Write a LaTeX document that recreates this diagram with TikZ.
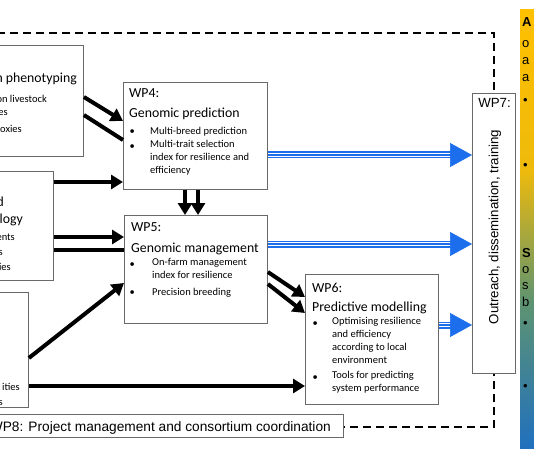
\documentclass[tikz,border=0pt]{standalone}
\usepackage{fontspec}
\setmainfont{Carlito}
\newfontfamily\arialfont{Liberation Sans}
\usetikzlibrary{arrows.meta}

\definecolor{wpblue}{RGB}{28,110,236}
\definecolor{wpgray}{RGB}{105,105,105}
\definecolor{barorange}{RGB}{255,192,0}
\definecolor{baryellow}{RGB}{238,186,12}
\definecolor{barteal}{RGB}{95,148,112}
\definecolor{barblue}{RGB}{32,112,190}

\tikzset{
  wpbox/.style={draw=wpgray, line width=0.9pt, fill=white, anchor=north west, inner sep=0pt},
  wptitle/.style={anchor=base west, inner sep=0pt, font=\fontsize{13.8}{16}\selectfont},
  wpitem/.style={anchor=north west, inner sep=0pt, align=left, font=\fontsize{10.5}{13}\selectfont, execute at begin node=\strut},
  wptailhead/.style={anchor=base east, inner sep=0pt, font=\fontsize{13.8}{16}\selectfont},
  wptail/.style={anchor=base east, inner sep=0pt, font=\fontsize{10.5}{13}\selectfont},
  barletter/.style={anchor=base west, inner sep=0pt, font=\arialfont\fontsize{13}{15}\selectfont},
  frame/.style={dash pattern=on 8pt off 5pt, line width=1.8pt},
  feed/.style={line width=4pt, -{Triangle[length=12pt,width=14pt]}},
  feedline/.style={line width=4pt},
  pipeouter/.style={draw=wpblue, line width=7pt, shorten >=20pt},
  pipeinner/.style={draw=white, line width=4.2pt, shorten >=20pt},
  pipecore/.style={draw=wpblue, line width=1.6pt, shorten >=20pt},
  pipehead/.style={draw=wpblue, line width=0.5pt, -{Triangle[length=22pt,width=24pt]}}
}

\begin{document}
\begin{tikzpicture}[x=1pt,y=-1pt]
\clip (0,0) rectangle (534,462);
\fill[white] (0,0) rectangle (534,462);

% dashed frame round the work packages
\draw[frame] (-10,33) rectangle (494,427);

% colour bar on the right
\shade[top color=barorange, bottom color=baryellow] (520,10) rectangle (540,171);
\shade[top color=baryellow, bottom color=barteal] (520,170) rectangle (540,301);
\shade[top color=barteal, bottom color=barblue] (520,300) rectangle (540,448);
\node[barletter] (bA) at (522,26.6) {\bfseries A};
\node[barletter] (bo1) at (522,47.4) {o};
\node[barletter] (ba1) at (522,64.4) {a};
\node[barletter] (ba2) at (522,81.4) {a};
\node[barletter] (bd1) at (523,104.7) {•};
\node[barletter] (bd2) at (523,169.7) {•};
\node[barletter] (bS) at (522,257.6) {\bfseries S};
\node[barletter] (bo2) at (522,273.4) {o};
\node[barletter] (bs) at (522,289.4) {s};
\node[barletter] (bb) at (522,306.7) {b};
\node[barletter] (bd3) at (523,327.7) {•};
\node[barletter] (bd4) at (523,390.7) {•};

% boxes cut off at the left edge
\node[wpbox, minimum width=93pt, minimum height=111pt] (b1) at (-10,45) {};
\node[wptailhead] (b1h) at (77,82.5) {n phenotyping};
\node[wptail] (b1a) at (47,103) {on livestock};
\node[wptail] (b1b) at (8,116) {es};
\node[wptail] (b1c) at (22,133) {oxies};

\node[wpbox, minimum width=63pt, minimum height=109pt] (b2) at (-10,171) {};
\node[wptailhead] (b2h) at (4,206.5) {d};
\node[wptailhead] (b2i) at (23,223.5) {logy};
\node[wptail] (b2a) at (15,240) {ents};
\node[wptail] (b2b) at (3,255) {s};
\node[wptail] (b2c) at (11,270) {ies};

\node[wpbox, minimum width=38pt, minimum height=115pt] (b3) at (-10,292) {};
\node[wptail] (b3a) at (20,390) {ities};
\node[wptail] (b3b) at (3,405) {s};

% WP4
\node[wpbox, minimum width=144pt, minimum height=107pt] (wp4) at (123,82) {};
\node[wptitle] (wp4n) at (129,97.5) {WP4:};
\node[wptitle] (wp4t) at (129,117.5) {Genomic prediction};
\node[wpitem] (wp4a) at (150,125) {Multi-breed prediction};
\node[wpitem] (wp4b) at (150,140) {Multi-trait selection\\index for resilience and\\efficiency};

% WP5
\node[wpbox, minimum width=143pt, minimum height=108pt] (wp5) at (124,215) {};
\node[wptitle] (wp5n) at (131,231.5) {WP5:};
\node[wptitle] (wp5t) at (131,252.5) {Genomic management};
\node[wpitem] (wp5a) at (152,258) {On-farm management\\index for resilience};
\node[wpitem] (wp5b) at (152,286) {Precision breeding};

% WP6
\node[wpbox, minimum width=133pt, minimum height=130pt] (wp6) at (305,274) {};
\node[wptitle] (wp6n) at (312,292.5) {WP6:};
\node[wptitle] (wp6t) at (312,311.5) {Predictive modelling};
\node[wpitem] (wp6a) at (332,317) {Optimising resilience\\and efficiency\\according to local\\environment};
\node[wpitem] (wp6b) at (332,371) {Tools for predicting\\system performance};

% bullets
\foreach \x/\y [count=\i] in {129.5/125, 129.5/140, 129.5/258, 129.5/286, 312.5/317, 312.5/371}
  \node[wpitem] (dot\i) at (\x,\y) {•};

% WP7
\node[wpbox, minimum width=43pt, minimum height=280pt] (wp7) at (472,93) {};
\node[anchor=base, inner sep=0pt, font=\arialfont\fontsize{13.3}{16}\selectfont] (wp7n) at (494.5,108) {WP7:};
\node[rotate=90, inner sep=0pt, font=\arialfont\fontsize{13.3}{16}\selectfont] (wp7t) at (495,227) {Outreach, dissemination, training};

% WP8
\node[wpbox, minimum width=353pt, minimum height=23pt] (wp8) at (-10,414) {};
\node[anchor=base east, inner sep=0pt, font=\arialfont\fontsize{13.7}{16}\selectfont] (wp8t) at (331,431.5) {WP8: Project management and consortium coordination};

% black connectors
\draw[feed] (b1.east |- 0,97) -- (wp4.west |- 0,121);
\draw[feedline] (b1.east |- 0,115) -- (wp4.west |- 0,140);
\draw[feed] (b2.east |- 0,182) -- (wp4.west |- 0,182);
\draw[feed] (b2.east |- 0,237) -- (wp5.west |- 0,237);
\draw[feedline] (b2.east |- 0,250) -- (wp5.west |- 0,250);
\draw[feed] (b3.east |- 0,358) -- (wp5.west |- 0,283);
\draw[feed] (b3.east |- 0,386) -- (wp6.west |- 0,386);
\draw[feed] (wp4.south -| 185,0) -- (wp5.north -| 185,0);
\draw[feed] (wp4.south -| 198,0) -- (wp5.north -| 198,0);
\draw[feed] (wp5.east |- 0,272) -- (wp6.west |- 0,297);
\draw[feed] (wp5.east |- 0,284) -- (wp6.west |- 0,313);

% blue connectors into WP7
\foreach \s/\h in {wp4/155, wp5/244, wp6/325} {
  \draw[pipeouter] (\s.east |- 0,\h) -- (wp7.west |- 0,\h);
  \draw[pipeinner] (\s.east |- 0,\h) -- (wp7.west |- 0,\h);
  \draw[pipecore] (\s.east |- 0,\h) -- (wp7.west |- 0,\h);
  \draw[pipehead] (\s.east |- 0,\h) -- (wp7.west |- 0,\h);
}
\end{tikzpicture}
\end{document}
